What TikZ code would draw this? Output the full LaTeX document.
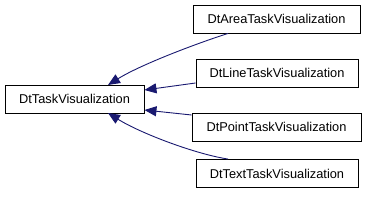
\documentclass[tikz,border=0pt]{standalone}
\usepackage{fontspec}
\setmainfont{Liberation Sans}
\usetikzlibrary{arrows.meta}
\definecolor{edgeblue}{HTML}{191970}
\begin{document}
\begin{tikzpicture}[x=1pt,y=-1pt,
  cls/.style={draw=black, line width=0.9pt, minimum height=28pt, inner sep=0pt, font=\fontsize{12.8}{14}\selectfont, anchor=center},
  inh/.style={draw=edgeblue, line width=0.9pt, {Triangle[length=12pt,width=10pt,fill=edgeblue]}-}]
\useasboundingbox (0,0) rectangle (368,200);
\node[cls, minimum width=139pt] (base) at (74.5,99) {DtTaskVisualization};
\node[cls, minimum width=167pt] (area) at (276.5,19) {DtAreaTaskVisualization};
\node[cls, minimum width=162pt] (line) at (277,73) {DtLineTaskVisualization};
\node[cls, minimum width=169pt] (point) at (276.5,127) {DtPointTaskVisualization};
\node[cls, minimum width=162pt] (text) at (277,173.5) {DtTextTaskVisualization};
\coordinate (bt) at (108,85);
\coordinate (bb) at (108,113);
\draw[inh] (bt) .. controls (140,65) and (195,44) .. (area.south -| 228,0);
\draw[inh] (base.east |- 0,90) -- (line.west |- 0,83);
\draw[inh] (base.east |- 0,110) -- (point.west |- 0,115);
\draw[inh] (bb) .. controls (140,133) and (195,154) .. (text.north -| 228,0);
\end{tikzpicture}
\end{document}
